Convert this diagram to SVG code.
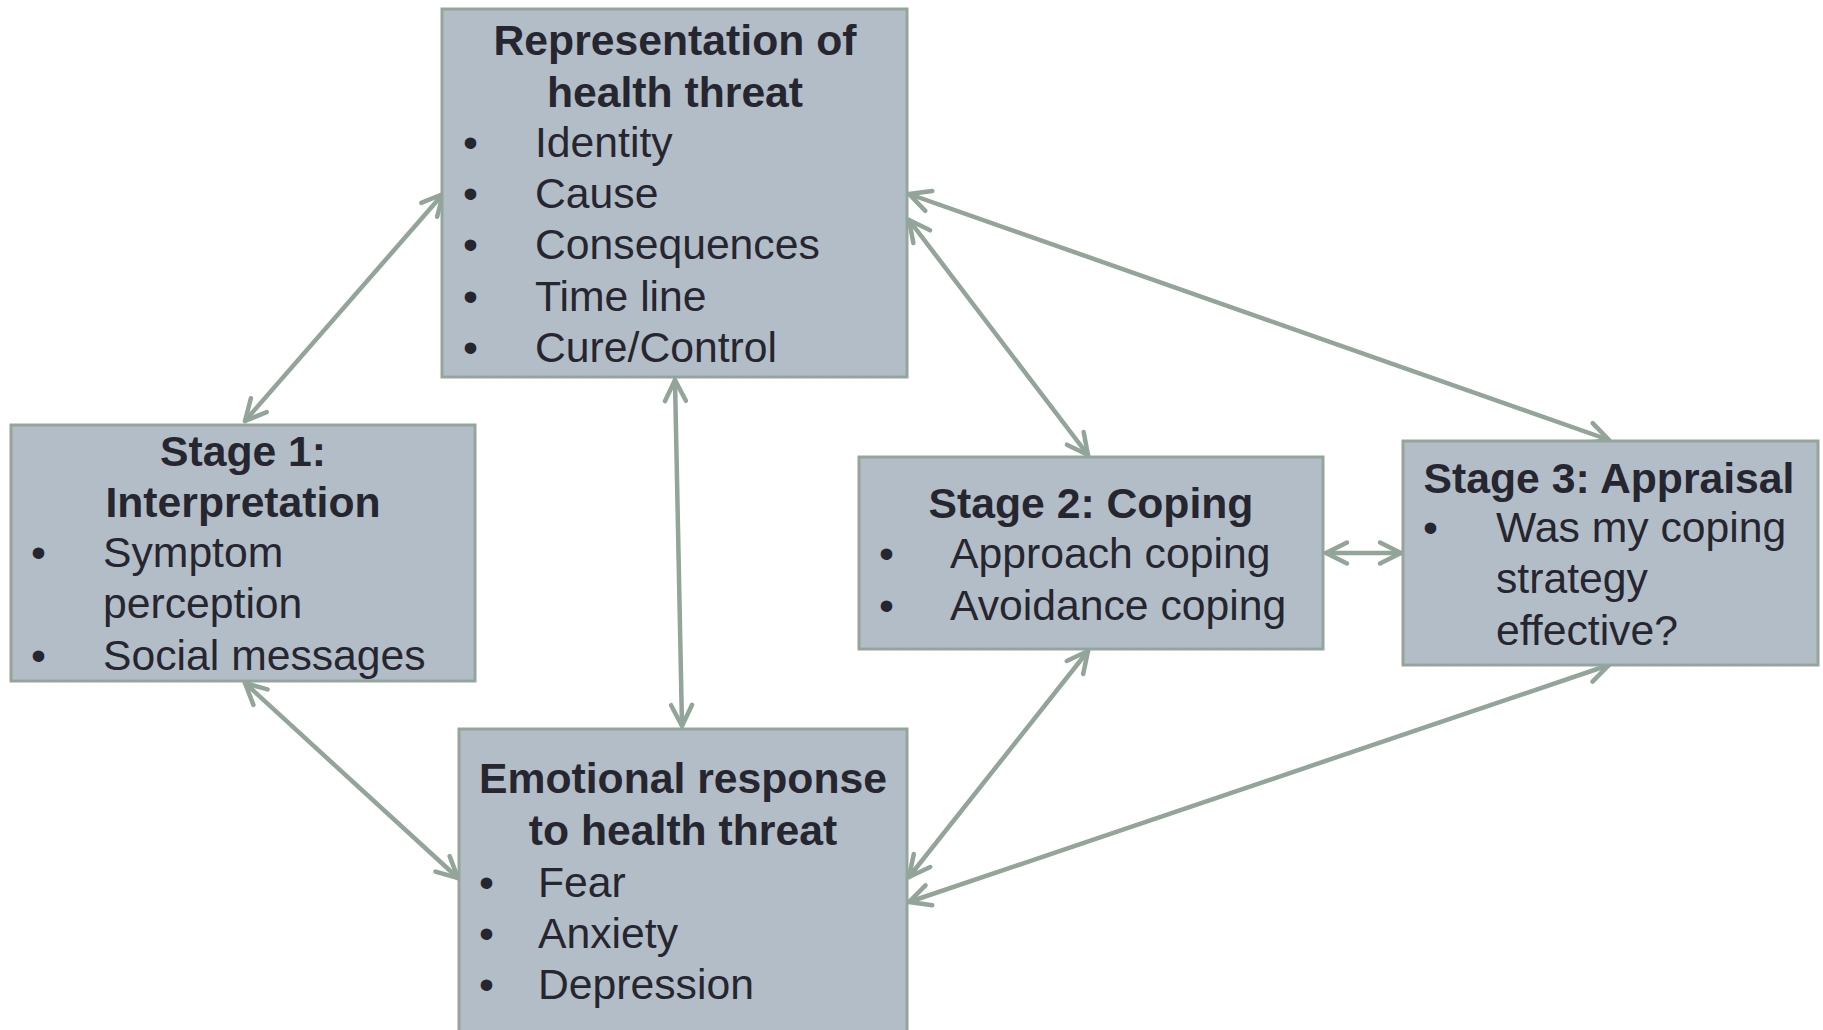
<svg xmlns="http://www.w3.org/2000/svg" width="1823" height="1030" viewBox="0 0 1823 1030">
<style>
.box{fill:#b3bdc7;stroke:#94a69a;stroke-width:3}
.t{font-family:"Liberation Sans",Arial,sans-serif;font-size:42.7px;fill:#262630}
.b{font-weight:bold;text-anchor:middle}
.c{fill:none;stroke:#93a499;stroke-width:4.5;stroke-linecap:round}
</style>
<defs>
<marker id="ah" viewBox="-26 -14 30 28" refX="0" refY="0" markerWidth="30" markerHeight="28" markerUnits="userSpaceOnUse" orient="auto-start-reverse" overflow="visible">
<path d="M -21 -10.5 L 0 0 L -21 10.5" fill="none" stroke="#93a499" stroke-width="4.5" stroke-linecap="round" stroke-linejoin="round"/>
</marker>
</defs>
<rect width="1823" height="1030" fill="#ffffff"/>
<g id="connectors">
<line class="c" x1="245" y1="421" x2="443" y2="194" marker-start="url(#ah)" marker-end="url(#ah)"/>
<line class="c" x1="675" y1="380" x2="682" y2="726" marker-start="url(#ah)" marker-end="url(#ah)"/>
<line class="c" x1="909" y1="220" x2="1088" y2="455" marker-start="url(#ah)" marker-end="url(#ah)"/>
<line class="c" x1="909" y1="194" x2="1609" y2="440" marker-start="url(#ah)" marker-end="url(#ah)"/>
<line class="c" x1="1326" y1="553" x2="1401" y2="553" marker-start="url(#ah)" marker-end="url(#ah)"/>
<line class="c" x1="1088" y1="651" x2="909" y2="877" marker-start="url(#ah)" marker-end="url(#ah)"/>
<line class="c" x1="1609" y1="665" x2="909" y2="902" marker-start="url(#ah)" marker-end="url(#ah)"/>
<line class="c" x1="245" y1="683" x2="458" y2="878" marker-start="url(#ah)" marker-end="url(#ah)"/>
</g>
<g id="representation">
<rect class="box" x="442" y="9" width="465" height="368"/>
<text class="t b" x="675" y="55">Representation of</text>
<text class="t b" x="675" y="107">health threat</text>
<text class="t" x="463" y="157">•</text><text class="t" x="535" y="157">Identity</text>
<text class="t" x="463" y="208">•</text><text class="t" x="535" y="208">Cause</text>
<text class="t" x="463" y="259">•</text><text class="t" x="535" y="259">Consequences</text>
<text class="t" x="463" y="311">•</text><text class="t" x="535" y="311">Time line</text>
<text class="t" x="463" y="362">•</text><text class="t" x="535" y="362">Cure/Control</text>
</g>
<g id="stage1">
<rect class="box" x="11" y="425" width="464" height="256"/>
<text class="t b" x="243" y="466">Stage 1:</text>
<text class="t b" x="243" y="517">Interpretation</text>
<text class="t" x="31" y="567">•</text><text class="t" x="103" y="567">Symptom</text>
<text class="t" x="103" y="618">perception</text>
<text class="t" x="31" y="670">•</text><text class="t" x="103" y="670">Social messages</text>
</g>
<g id="stage2">
<rect class="box" x="859" y="457" width="464" height="192"/>
<text class="t b" x="1091" y="518">Stage 2: Coping</text>
<text class="t" x="879" y="568">•</text><text class="t" x="950" y="568">Approach coping</text>
<text class="t" x="879" y="620">•</text><text class="t" x="950" y="620">Avoidance coping</text>
</g>
<g id="stage3">
<rect class="box" x="1403" y="441" width="415" height="224"/>
<text class="t b" x="1609" y="493">Stage 3: Appraisal</text>
<text class="t" x="1423" y="542">•</text><text class="t" x="1496" y="542">Was my coping</text>
<text class="t" x="1496" y="593">strategy</text>
<text class="t" x="1496" y="645">effective?</text>
</g>
<g id="emotional">
<rect class="box" x="459" y="729" width="448" height="312"/>
<text class="t b" x="683" y="793">Emotional response</text>
<text class="t b" x="683" y="845">to health threat</text>
<text class="t" x="479" y="897">•</text><text class="t" x="538" y="897">Fear</text>
<text class="t" x="479" y="948">•</text><text class="t" x="538" y="948">Anxiety</text>
<text class="t" x="479" y="999">•</text><text class="t" x="538" y="999">Depression</text>
</g>
</svg>
